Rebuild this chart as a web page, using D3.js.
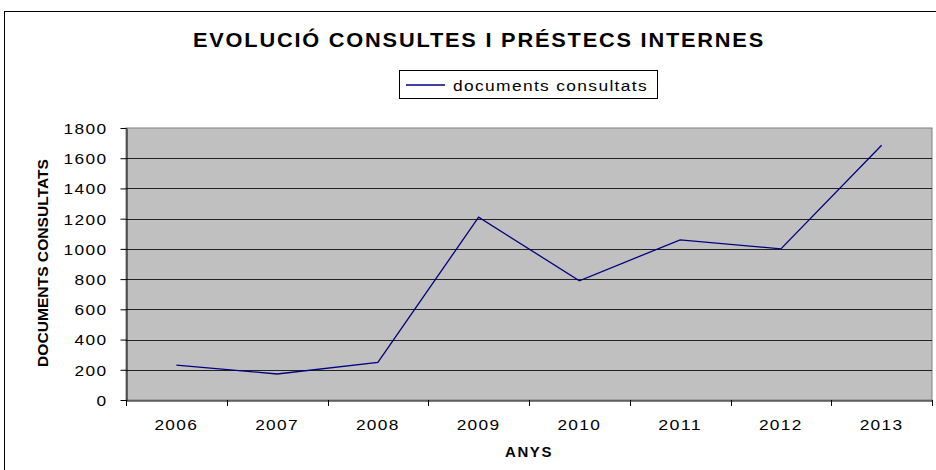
<!DOCTYPE html>
<html><head><meta charset="utf-8">
<script src="https://cdn.jsdelivr.net/npm/d3@7/dist/d3.min.js"></script>
<style>body{margin:0;background:#fff}svg{display:block;font-family:"Liberation Sans",Arial,sans-serif}</style>
</head><body><svg id="c" width="936" height="470"></svg>
<script>
const years = ["2006","2007","2008","2009","2010","2011","2012","2013"];
const consultats = [231, 172, 249, 1210, 789, 1060, 1000, 1686];
const yTicks = [0,200,400,600,800,1000,1200,1400,1600,1800];
const seriesName = "documents consultats";
const titleText = "EVOLUCIÓ CONSULTES I PRÉSTECS INTERNES";
const xTitle = "ANYS";
const yTitle = "DOCUMENTS CONSULTATS";

const svg = d3.select("#c");
const L=126, R=932, T=128, B=400;
svg.append("rect").attr("x",4.5).attr("y",11.5).attr("width",940).attr("height",470).attr("fill","#fff").attr("stroke","#000").attr("stroke-width",1);

const x = d3.scaleBand().domain(years).range([L,R]).paddingInner(0).paddingOuter(0);
const y = d3.scaleLinear().domain([0,1800]).range([B,T]);

svg.append("rect").attr("x",L).attr("y",T).attr("width",R-L).attr("height",B-T).attr("fill","#c0c0c0").attr("stroke","#808080");

svg.append("g").selectAll("line").data(yTicks.filter(d=>d>0&&d<1800)).join("line")
  .attr("x1",L).attr("x2",R).attr("y1",d=>Math.round(y(d))+0.5).attr("y2",d=>Math.round(y(d))+0.5)
  .attr("stroke","#222").attr("stroke-width",1);

const charW = 11; // pixel pitch per digit in tick labels
const ya = svg.append("g").attr("transform",`translate(${L+0.5},0)`)
  .call(d3.axisLeft(y).tickValues(yTicks).tickSize(6).tickSizeOuter(0).tickFormat(d3.format("d")));
ya.select(".domain").attr("stroke","#000");
ya.selectAll("text").attr("font-size",15).attr("fill","#000").attr("x",-19).attr("dy","0.36em")
  .attr("letter-spacing","1.2px")
  .attr("textLength",d=>String(d).length*charW).attr("lengthAdjust","spacingAndGlyphs");

const xa = svg.append("g").attr("transform",`translate(0,${B+0.5})`)
  .call(d3.axisBottom(x).tickSize(0).tickFormat(d=>d));
xa.select(".domain").attr("stroke","#000");
xa.selectAll("text").attr("font-size",15).attr("fill","#000").attr("y",29).attr("dy",0)
  .attr("letter-spacing","1.2px")
  .attr("textLength",d=>d.length*charW).attr("lengthAdjust","spacingAndGlyphs");
svg.append("g").selectAll("line").data(years.concat(["_end"])).join("line")
  .attr("x1",(d,i)=>Math.round(L+i*x.step())+0.5).attr("x2",(d,i)=>Math.round(L+i*x.step())+0.5)
  .attr("y1",B).attr("y2",B+6).attr("stroke","#000");

const line = d3.line().x((d,i)=>x(years[i])+x.bandwidth()/2).y(d=>y(d));
svg.append("path").datum(consultats).attr("d",line).attr("fill","none").attr("stroke","#000080").attr("stroke-width",1.3);

svg.append("text").attr("x",193).attr("y",47).attr("font-size",19.5).attr("font-weight","bold")
  .attr("letter-spacing","1.6px")
  .attr("textLength",572).attr("lengthAdjust","spacingAndGlyphs").text(titleText);

svg.append("rect").attr("x",399.5).attr("y",70.5).attr("width",258).attr("height",28).attr("fill","#fff").attr("stroke","#000");
svg.append("line").attr("x1",406).attr("x2",445).attr("y1",85).attr("y2",85).attr("stroke","#000080").attr("stroke-width",1.3);
svg.append("text").attr("x",453).attr("y",91).attr("font-size",15.5).attr("letter-spacing","1.2px")
  .attr("textLength",195).attr("lengthAdjust","spacingAndGlyphs").text(seriesName);

svg.append("text").attr("x",505).attr("y",457).attr("font-size",14).attr("font-weight","bold").attr("letter-spacing","1.5px")
  .attr("textLength",48).attr("lengthAdjust","spacingAndGlyphs").text(xTitle);
svg.append("text").attr("transform",`translate(47.5,367) rotate(-90)`).attr("font-size",15).attr("font-weight","bold")
  .attr("textLength",208).attr("lengthAdjust","spacingAndGlyphs").text(yTitle);
</script></body></html>
